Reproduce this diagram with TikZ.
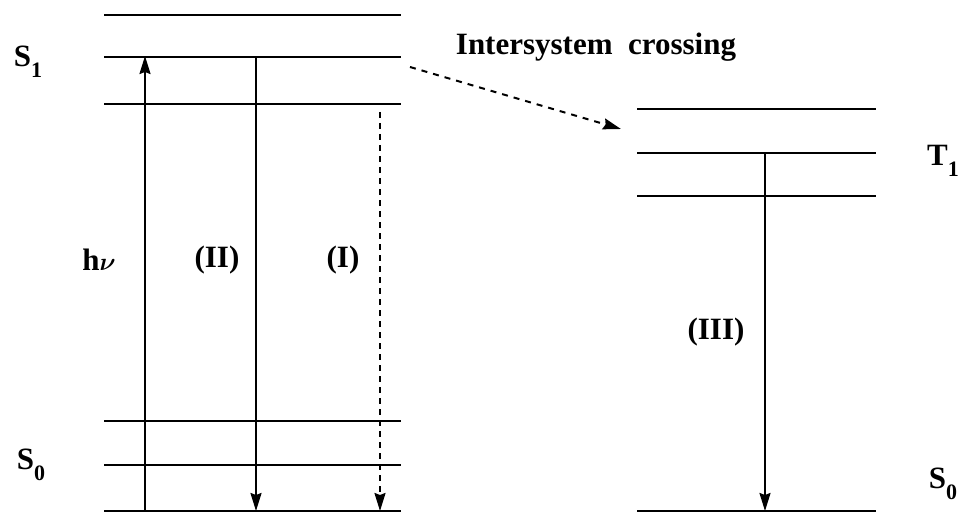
\documentclass[tikz,border=0pt]{standalone}
\usepackage{bm}
\usepackage{fontspec}
\setmainfont{Liberation Serif}
\usetikzlibrary{arrows.meta}
\newcommand\levname[2]{#1\raisebox{-0.35em}{\fontsize{22}{22}\selectfont #2}}
\begin{document}
\begin{tikzpicture}[x=1pt,y=-1pt,
      lvl/.style={draw,line width=2.2pt},
      trans/.style={line width=2pt,-{Stealth[length=18pt,width=11pt,inset=2pt]}},
      lbl/.style={font=\bfseries\fontsize{31}{33}\selectfont,inner sep=0pt},
      ]
        \useasboundingbox (0,0) rectangle (961,516);
        % singlet side
        \foreach \name/\y in {Sa/15,Sb/57,Sc/104,Ga/421,Gb/465,Gc/511}
          \path [lvl] (104,\y) coordinate (\name-l) -- (401,\y) coordinate (\name-r);
        % triplet side
        \foreach \name/\y in {Ta/109,Tb/153,Tc/196,Hc/511}
          \path [lvl] (637,\y) coordinate (\name-l) -- (876,\y) coordinate (\name-r);

        \node [lbl] (S1) at (28,62) {\levname{S}{1}};
        \node [lbl] (S0) at (31,465) {\levname{S}{0}};
        \node [lbl] (T1) at (943,161) {\levname{T}{1}};
        \node [lbl] (S0b) at (943,484) {\levname{S}{0}};

        \coordinate (hvA) at (145,511);
        \coordinate (hvB) at (145,56);
        \coordinate (fA) at (256,57);
        \coordinate (fB) at (256,511);
        \coordinate (nA) at (380,112);
        \coordinate (nB) at (380,511);
        \coordinate (pA) at (765,153);
        \coordinate (pB) at (765,511);
        \coordinate (iA) at (410,67);
        \coordinate (iB) at (621,129);

        \draw [trans] (hvA) -- (hvB);
        \draw [trans] (fA) -- (fB);
        \draw [trans,dash pattern=on 6pt off 5pt] (nA) -- (nB);
        \draw [trans] (pA) -- (pB);
        \draw [trans,dash pattern=on 6pt off 6pt] (iA) -- (iB);

        \node [lbl] (hv) at (99,260) {h$\bm{\nu}$};
        \node [lbl] (II) at (217,260) {(II)};
        \node [lbl] (I) at (343,260) {(I)};
        \node [lbl] (III) at (716,332) {(III)};
        \node [lbl,anchor=base] (isc) at (596,55) {Intersystem\ \ crossing};
      \end{tikzpicture}
\end{document}
